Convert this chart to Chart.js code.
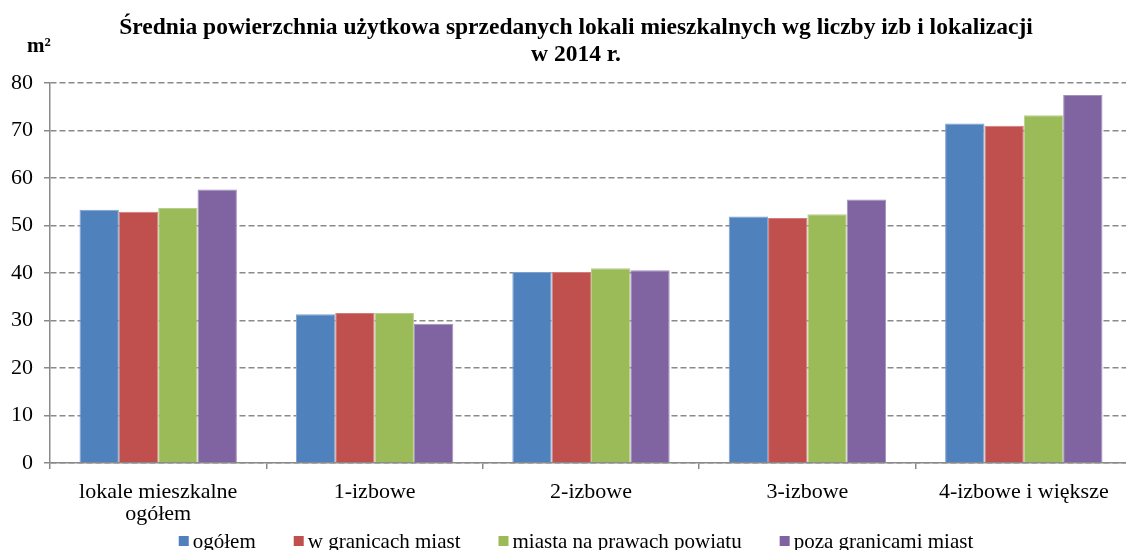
<!DOCTYPE html>
<html lang="pl">
<head>
<meta charset="utf-8">
<title>Średnia powierzchnia użytkowa sprzedanych lokali mieszkalnych</title>
<script src="https://cdn.jsdelivr.net/npm/chart.js@4/dist/chart.umd.min.js"></script>
<style>
  html, body { margin: 0; padding: 0; background: #fff; overflow: hidden; }
  #wrap { position: absolute; left: 0; top: 0; width: 1152px; height: 550px; }
</style>
</head>
<body>
<div id="wrap"><canvas id="chart"></canvas></div>
<script>
// Kategorie lokali wg liczby izb
const categories = [
  ['lokale mieszkalne', 'ogółem'],
  '1-izbowe',
  '2-izbowe',
  '3-izbowe',
  '4-izbowe i większe'
];

// Średnia powierzchnia użytkowa (m²) wg lokalizacji
const ogolem           = [53.3, 31.3, 40.2, 51.9, 71.5];
const wGranicachMiast  = [52.9, 31.6, 40.2, 51.6, 71.0];
const miastaNaPrawach  = [53.7, 31.6, 41.0, 52.4, 73.2];
const pozaGranicami    = [57.6, 29.3, 40.6, 55.5, 77.5];

const seriesNames = ['ogółem', 'w granicach miast', 'miasta na prawach powiatu', 'poza granicami miast'];
const yTicks = [0, 10, 20, 30, 40, 50, 60, 70, 80];

const fills = ['#4F81BD', '#C0504D', '#9BBB59', '#8064A2'];
const edges = ['#7EA2D0', '#D07D7B', '#B6CE88', '#A290BE'];
const serif = '"Liberation Serif", "Times New Roman", serif';
const gridGray = '#8a8a8a';

// Jednostka osi Y nad osią
const unitLabel = {
  id: 'unitLabel',
  afterDraw(chart) {
    const ctx = chart.ctx;
    ctx.save();
    ctx.fillStyle = '#000';
    ctx.font = 'bold 21px ' + serif;
    ctx.textAlign = 'left';
    ctx.textBaseline = 'alphabetic';
    ctx.fillText('m²', 27, 52);
    ctx.restore();
  }
};

// Legenda pod wykresem: kwadrat koloru + nazwa serii, wyśrodkowana
const bottomLegend = {
  id: 'bottomLegend',
  afterDraw(chart) {
    const ctx = chart.ctx;
    const box = 10, gapText = 4, gapItem = 38;
    const cy = 541;
    ctx.save();
    ctx.font = '21px ' + serif;
    ctx.textBaseline = 'middle';
    ctx.textAlign = 'left';
    const items = chart.data.datasets.map(ds => ({
      text: ds.label, color: ds.backgroundColor, w: ctx.measureText(ds.label).width
    }));
    const total = items.reduce((s, it) => s + box + gapText + it.w, 0) + gapItem * (items.length - 1);
    let x = 576 - total / 2;
    items.forEach(it => {
      ctx.fillStyle = it.color;
      ctx.fillRect(x, cy - box / 2, box, box);
      x += box + gapText;
      ctx.fillStyle = '#000';
      ctx.fillText(it.text, x, cy + 1);
      x += it.w + gapItem;
    });
    ctx.restore();
  }
};

const seriesValues = [ogolem, wGranicachMiast, miastaNaPrawach, pozaGranicami];

new Chart(document.getElementById('chart'), {
  type: 'bar',
  data: {
    labels: categories,
    datasets: seriesValues.map((vals, i) => ({
      label: seriesNames[i],
      data: vals,
      backgroundColor: fills[i],
      borderColor: edges[i],
      borderWidth: 1,
      categoryPercentage: 4 / 5.5,
      barPercentage: 1.0,
      yAxisID: 'y'
    }))
  },
  options: {
    responsive: true,
    maintainAspectRatio: false,
    animation: false,
    layout: { padding: { left: 0, right: 0, top: 0, bottom: 0 } },
    plugins: {
      tooltip: { enabled: false },
      legend: { display: false },
      title: {
        display: true,
        text: ['Średnia powierzchnia użytkowa sprzedanych lokali mieszkalnych wg liczby izb i lokalizacji', 'w 2014 r.'],
        color: '#000',
        font: { family: serif, size: 23.5, weight: 'bold', lineHeight: 1.15 },
        padding: { top: 14, bottom: 15 }
      }
    },
    scales: {
      x: {
        grid: {
          display: true,
          drawOnChartArea: false,
          drawTicks: true,
          tickLength: 6,
          color: gridGray,
          lineWidth: 1.5
        },
        border: { display: true, color: gridGray, width: 1.5 },
        ticks: {
          color: '#000',
          font: { family: serif, size: 22, lineHeight: 1.0 },
          padding: 12,
          maxRotation: 0,
          autoSkip: false
        },
        afterFit(scale) { scale.height = 87; }
      },
      y: {
        position: 'left',
        min: 0,
        max: 80,
        afterBuildTicks(scale) { scale.ticks = yTicks.map(v => ({ value: v })); },
        grid: {
          color: gridGray,
          lineWidth: 1.5,
          drawTicks: true,
          tickLength: 6,
          tickColor: gridGray
        },
        border: { display: true, color: gridGray, width: 1.5, dash: [6, 3] },
        ticks: {
          color: '#000',
          font: { family: serif, size: 22 },
          padding: 11
        },
        afterFit(scale) { scale.width = 50; }
      },
      // pusty margines po prawej stronie obszaru wykresu
      yRight: {
        position: 'right',
        display: true,
        grid: { display: false, drawOnChartArea: false },
        border: { display: false },
        ticks: { display: false },
        afterFit(scale) { scale.width = 20; }
      }
    }
  },
  plugins: [unitLabel, bottomLegend]
});
</script>
</body>
</html>
